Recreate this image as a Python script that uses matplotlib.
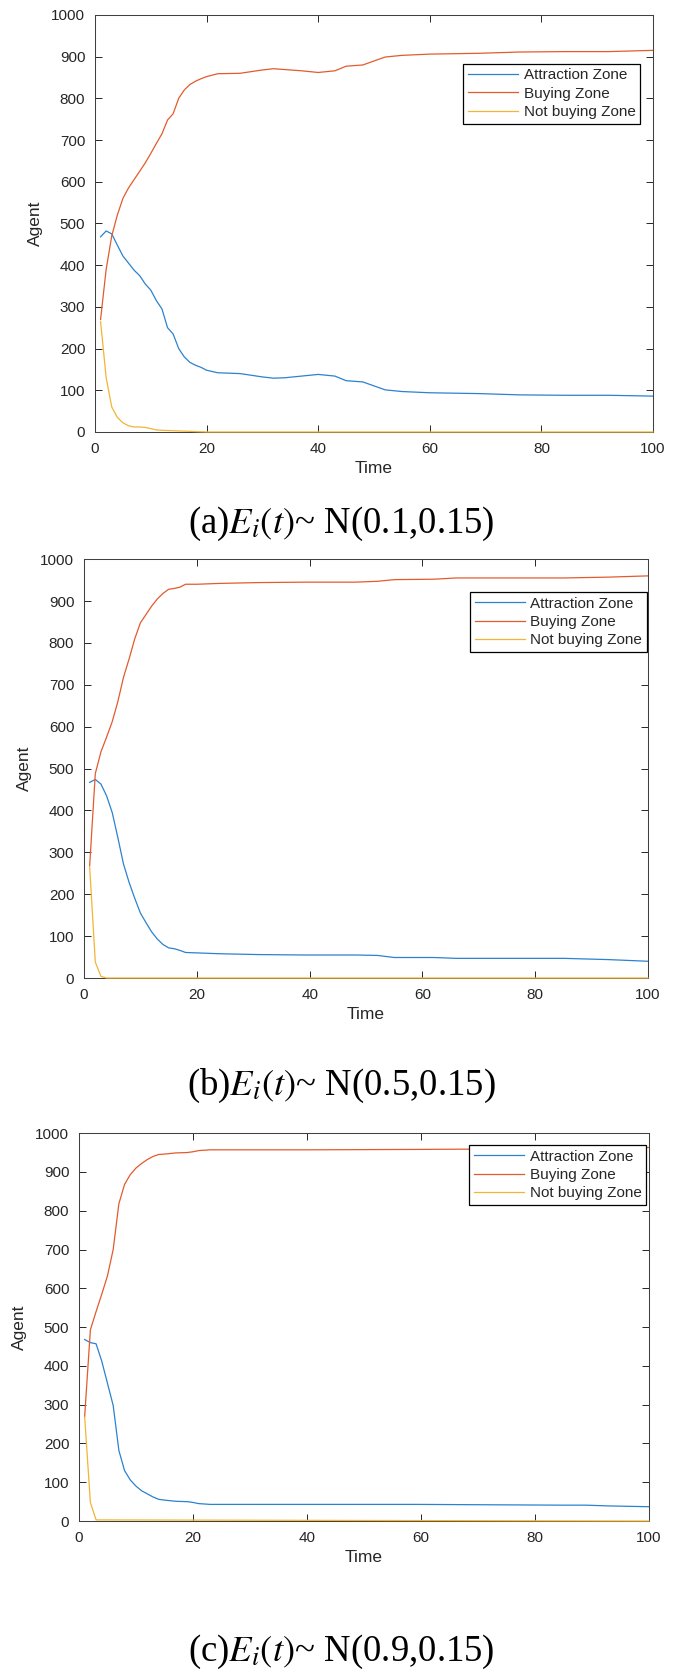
import matplotlib
matplotlib.use("Agg")
import matplotlib.pyplot as plt

plt.rcParams['font.family'] = ['Liberation Sans', 'DejaVu Sans']
plt.rcParams['mathtext.fontset'] = 'stix'

# agent counts per zone over time, one set per scenario
t_a = [1, 2, 3, 4, 5, 6, 7, 8, 9, 10, 11, 12, 13, 14, 15, 16, 17, 18, 19, 20,
       22, 26, 30, 32, 34, 37, 40, 43, 45, 48, 52, 55, 60, 69, 76, 84, 92, 100]
attr_a = [468, 482, 475, 448, 422, 405, 388, 375, 355, 340, 315, 295, 250, 235, 200, 180, 167, 160, 155, 148,
          142, 140, 132, 129, 130, 134, 138, 134, 123, 120, 101, 97, 94, 92, 89, 88, 88, 86]
buy_a = [270, 390, 470, 520, 560, 585, 605, 625, 645, 668, 692, 715, 748, 763, 800, 820, 833, 841, 847, 852,
         859, 860, 868, 871, 869, 866, 862, 866, 877, 880, 899, 903, 906, 908, 911, 912, 912, 915]
t_na = [1, 2, 3, 4, 5, 6, 7, 8, 9, 10, 11, 12, 14, 16, 18, 20, 100]
notbuy_a = [265, 130, 60, 35, 22, 15, 12, 12, 11, 8, 5, 4, 3, 2, 1, 0, 0]

t_b = [1, 2, 3, 4, 5, 6, 7, 8, 9, 10, 11, 12, 13, 14, 15, 16, 17, 18, 20,
       24, 31, 39, 48, 52, 55, 62, 66, 85, 93, 100]
attr_b = [467, 474, 463, 435, 395, 335, 272, 228, 190, 155, 132, 110, 93, 80, 72, 70, 66, 61, 60,
          58, 56, 55, 55, 54, 49, 49, 47, 47, 44, 40]
buy_b = [268, 488, 540, 575, 612, 660, 718, 762, 810, 848, 868, 888, 905, 918, 928, 930, 933, 940, 940,
         942, 944, 945, 945, 947, 951, 952, 955, 955, 957, 960]
t_nb = [1, 2, 3, 4, 100]
notbuy_b = [265, 38, 4, 0, 0]

t_c = [1, 2, 3, 4, 5, 6, 7, 8, 9, 10, 11, 12, 13, 14, 15, 17, 19, 20, 21, 23,
       40, 59, 85, 89, 93, 100]
attr_c = [468, 460, 457, 412, 355, 298, 182, 130, 106, 90, 78, 70, 62, 56, 54, 51, 50, 48, 45, 43,
          43, 43, 41, 41, 39, 37]
buy_c = [270, 493, 540, 585, 632, 700, 818, 868, 893, 910, 922, 932, 940, 945, 946, 949, 950, 952, 955, 957,
         957, 958, 960, 960, 961, 963]
t_nc = [1, 2, 3, 100]
notbuy_c = [268, 48, 3, 0]

captions = ['(a)$E_i(t)$~ N(0.1,0.15)', '(b)$E_i(t)$~ N(0.5,0.15)', '(c)$E_i(t)$~ N(0.9,0.15)']
labels = ['Attraction Zone', 'Buying Zone', 'Not buying Zone']
colors = ['#2b82cf', '#e35b2d', '#f2b535']

panels = [
    (t_a, attr_a, buy_a, t_na, notbuy_a),
    (t_b, attr_b, buy_b, t_nb, notbuy_b),
    (t_c, attr_c, buy_c, t_nc, notbuy_c),
]
# axes rectangles [left, bottom, width, height] in figure fractions
rects = [
    [0.1393, 0.7421, 0.8182, 0.2490],
    [0.1232, 0.4161, 0.8270, 0.2501],
    [0.1158, 0.0919, 0.8358, 0.2316],
]
legend_anchor = [(0.977, 0.8825), (0.998, 0.921), (0.995, 0.969)]
caption_y = [0.687, 0.352, 0.0137]

fig = plt.figure(figsize=(6.82, 16.75), dpi=100)
ink = '#262626'

for k, (t, attr, buy, tn, notbuy) in enumerate(panels):
    ax = fig.add_axes(rects[k])
    ax.plot(t, attr, color=colors[0], lw=0.9, label=labels[0], zorder=3)
    ax.plot(t, buy, color=colors[1], lw=0.9, label=labels[1], zorder=3)
    ax.plot(tn, notbuy, color=colors[2], lw=0.9, label=labels[2], zorder=3, clip_on=False)
    ax.set_xlim(0, 100)
    ax.set_ylim(0, 1000)
    ax.set_xticks(range(0, 101, 20))
    ax.set_yticks(range(0, 1001, 100))
    ax.tick_params(direction='in', length=5, width=0.7, top=True, right=True,
                   labelsize=11, colors=ink, pad=7)
    for s in ax.spines.values():
        s.set_color('#404040')
        s.set_linewidth(0.75)
    ax.set_xlabel('Time', fontsize=12.5, color=ink, labelpad=4)
    ax.set_ylabel('Agent', fontsize=12.5, color=ink, labelpad=6)
    leg = ax.legend(loc='upper right', bbox_to_anchor=legend_anchor[k], borderaxespad=0,
                    fontsize=11, fancybox=False, framealpha=1, edgecolor='black',
                    handlelength=3.3, handletextpad=0.35, labelspacing=0.28, borderpad=0.3)
    leg.get_frame().set_linewidth(0.9)
    for txt in leg.get_texts():
        txt.set_color(ink)
    fig.text(0.5, caption_y[k], captions[k], ha='center', va='center',
             fontsize=26.5, family=['Liberation Serif', 'DejaVu Serif'], color='black')

fig.savefig('out.png', dpi=100)
